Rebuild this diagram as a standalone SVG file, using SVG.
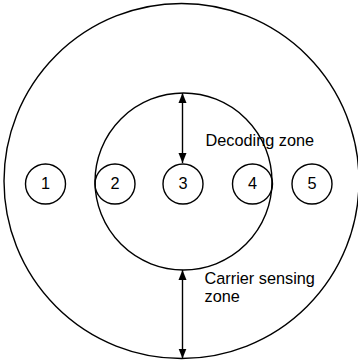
<svg xmlns="http://www.w3.org/2000/svg" width="358" height="364" viewBox="0 0 358 364">
<style>
.z{fill:none;stroke:#000;stroke-width:1.4}
.n{fill:#fff;stroke:#000;stroke-width:1.4}
.t{font-family:"Liberation Sans",Arial,sans-serif;font-size:16.3px;fill:#000}
.c{text-anchor:middle}
.a{stroke:#000;stroke-width:1.4;fill:none}
</style>
<defs>
<marker id="ah" viewBox="0 0 10 10" refX="10" refY="5" markerWidth="10" markerHeight="10" markerUnits="userSpaceOnUse" orient="auto-start-reverse">
<path d="M0,1 L10,5 L0,9 Z" fill="#000"/>
</marker>
</defs>
<g id="outer"><circle class="z" cx="181.5" cy="181" r="177.5"/></g>
<g id="inner"><circle class="z" cx="183.5" cy="181.5" r="88.5"/></g>
<g id="connectors">
<line class="a" x1="182.5" y1="93" x2="182.5" y2="163" marker-start="url(#ah)" marker-end="url(#ah)"/>
<line class="a" x1="182.5" y1="270" x2="182.5" y2="358.5" marker-start="url(#ah)" marker-end="url(#ah)"/>
</g>
<g id="n1"><circle class="n" cx="45.5" cy="184" r="20"/><text class="t c" x="45.5" y="188.5">1</text></g>
<g id="n2"><circle class="z" cx="115" cy="184" r="20"/><text class="t c" x="115" y="188.5">2</text></g>
<g id="n3"><circle class="z" cx="183" cy="184" r="20"/><text class="t c" x="183" y="188.5">3</text></g>
<g id="n4"><circle class="z" cx="252.5" cy="184" r="20"/><text class="t c" x="252.5" y="188.5">4</text></g>
<g id="n5"><circle class="z" cx="312" cy="184" r="20"/><text class="t c" x="312" y="188.5">5</text></g>
<g id="labels">
<text class="t" x="205.5" y="146">Decoding zone</text>
<text class="t" x="204.5" y="284">Carrier sensing</text>
<text class="t" x="204.5" y="301.5">zone</text>
</g>
</svg>
